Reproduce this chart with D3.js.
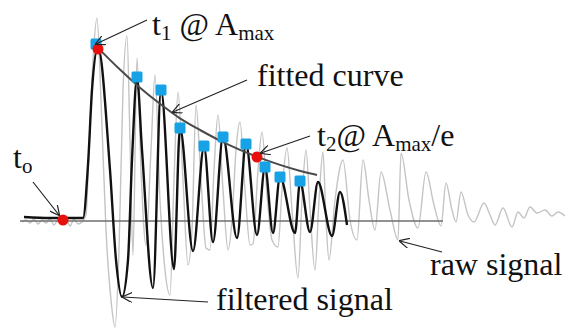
<!DOCTYPE html>
<html>
<head>
<meta charset="utf-8">
<script src="https://cdn.jsdelivr.net/npm/d3@7"></script>
<style>
  body { margin: 0; background: #fff; }
</style>
</head>
<body>
<script>
// Data (time in ms, amplitude in arbitrary units)
const filteredT = [0.4, 3.0, 6.3, 6.8, 7.2, 7.8, 9.0, 9.6, 10.2, 10.8, 11.2, 11.7, 12.2, 13.3, 14.1, 15.4, 16.0, 17.3, 18.4, 19.3, 20.3, 21.7, 22.6, 23.7, 24.5, 25.3, 26.0, 27.5, 28.0, 29.0, 29.8, 31.2, 32.0, 32.7];
const filteredA = [0.04, 0.03, 0.03, 0.56, 1.31, 1.74, 0.51, -0.39, -0.76, -0.39, 0.61, 1.43, 0.71, -0.67, 1.31, -0.48, 0.93, -0.30, 0.74, -0.21, 0.84, -0.17, 0.77, -0.14, 0.54, -0.12, 0.44, -0.12, 0.39, -0.11, 0.39, -0.15, 0.29, -0.04];

const rawT = [0.2, 0.6, 1.0, 1.4, 1.8, 2.2, 2.6, 3.0, 3.4, 3.8, 4.2, 4.6, 5.0, 5.4, 5.8, 6.2, 6.6, 6.9, 7.3, 7.7, 8.1, 8.6, 9.1, 9.5, 9.9, 10.3, 10.7, 11.0, 11.3, 11.7, 12.1, 12.6, 13.1, 13.5, 14.0, 14.5, 15.0, 15.4, 15.8, 16.3, 16.8, 17.2, 17.6, 18.1, 18.6, 19.0, 19.4, 19.8, 20.3, 20.8, 21.2, 21.6, 22.0, 22.5, 23.0, 23.3, 23.8, 24.2, 24.7, 25.2, 25.8, 26.2, 26.7, 27.2, 27.8, 28.2, 28.6, 29.0, 29.5, 29.9, 30.3, 30.6, 30.9, 31.5, 32.3, 33.0, 33.7, 34.3, 34.9, 35.5, 36.1, 37.0, 37.8, 38.1, 38.9, 39.8, 40.6, 41.4, 42.1, 42.6, 43.2, 43.6, 44.1, 44.8, 45.4, 46.4, 47.0, 47.5, 48.3, 49.2, 49.8, 50.4, 51.0, 51.7, 52.5, 53.2, 53.8, 54.5];
const rawA = [-0.01, 0.01, -0.02, 0.02, -0.03, 0.01, -0.02, 0.02, -0.04, 0.01, -0.03, 0.02, -0.05, 0.02, -0.03, -0.01, 0.06, 0.71, 1.61, 2.03, 1.21, -0.09, -0.79, -1.06, -0.29, 1.31, 1.85, 0.81, -0.34, 1.63, 0.51, -0.24, 0.71, 1.46, 0.21, -0.49, -0.74, 0.41, 1.29, 0.41, -0.44, -0.09, 1.16, 0.41, -0.27, -0.29, 0.51, 1.06, 0.31, -0.29, 0.01, 0.71, 0.99, 0.31, -0.24, -0.23, 0.51, 0.89, 0.26, -0.19, -0.26, 0.31, 0.73, 0.11, -0.57, 0.21, 0.71, 0.11, -0.49, 0.21, 0.69, 0.01, -0.39, 0.21, 0.61, 0.01, -0.19, 0.61, 0.21, -0.09, 0.49, 0.11, -0.19, 0.68, 0.21, -0.07, 0.49, 0.16, -0.05, 0.38, 0.11, -0.01, 0.29, 0.06, -0.01, 0.18, 0.06, -0.04, 0.13, -0.06, 0.09, 0.03, 0.14, 0.08, 0.11, 0.05, 0.09, 0.05];

// fitted exponential envelope
const fitT = [7.8, 10, 12, 14, 16, 18, 20, 22, 24, 26, 28, 29.7];
const fitA = [1.73, 1.51, 1.33, 1.17, 1.02, 0.91, 0.80, 0.71, 0.63, 0.56, 0.50, 0.46];

// detected peaks
const peakT = [7.6, 11.7, 14.1, 16.0, 18.4, 20.3, 22.6, 24.5, 26.0, 28.0];
const peakA = [1.77, 1.44, 1.31, 0.93, 0.75, 0.84, 0.77, 0.54, 0.44, 0.40];

// t0, t1 @ Amax, t2 @ Amax/e
const markT = [4.3, 7.8, 23.7];
const markA = [0.01, 1.72, 0.64];

const baselineExtent = [0, 42.3];

// Annotations: label pieces, arrow target in data units
const annotations = [
    {parts: [["t"], ["1", true], [" @ A"], ["max", true]], x: 152, y: 35, tail: [147, 20], target: [7.6, 1.77]},
    {parts: [["fitted curve"]], x: 257, y: 86, tail: [247, 80], target: [15.3, 1.09]},
    {parts: [["t"], ["2", true], ["@ A"], ["max", true], ["/e"]], x: 317, y: 146, tail: [310, 136], target: [24.1, 0.68]},
    {parts: [["t"], ["o", true]], x: 13, y: 168, tail: [33, 182], target: [3.9, 0.06]},
    {parts: [["filtered signal"]], x: 216, y: 310, tail: [208, 302], target: [10.3, -0.76]},
    {parts: [["raw signal"]], x: 430, y: 275, tail: [442, 252], target: [38.0, -0.20]}
];

// Main
const svgwidth = 574;
const svgheight = 330;

let svg = d3.select("body").append("svg")
    .attr("width", svgwidth)
    .attr("height", svgheight)

let xScale = d3.scaleLinear().domain([0, 55]).range([20, 570])
let yScale = d3.scaleLinear().domain([-1.1, 2.2]).range([331, 1])

svg.append("defs").append("marker")
    .attr("id", "arrow")
    .attr("viewBox", "0 0 10 10")
    .attr("refX", 9).attr("refY", 5)
    .attr("markerWidth", 10).attr("markerHeight", 10)
    .attr("markerUnits", "userSpaceOnUse")
    .attr("orient", "auto")
  .append("path")
    .attr("d", "M0,0 L10,5 L0,10")
    .attr("fill", "none")
    .attr("stroke", "#222")
    .attr("stroke-width", 1.2)

let line = d3.line()
    .x(d => xScale(d[0]))
    .y(d => yScale(d[1]))

// raw signal
svg.append("path")
    .datum(d3.zip(rawT, rawA))
    .attr("d", line.curve(d3.curveMonotoneX))
    .attr("fill", "none")
    .attr("stroke", "#c4c4c4")
    .attr("stroke-width", 1.4)

// zero line
svg.append("line")
    .attr("x1", xScale(baselineExtent[0]))
    .attr("x2", xScale(baselineExtent[1]))
    .attr("y1", yScale(0))
    .attr("y2", yScale(0))
    .attr("stroke", "#6e6e6e")
    .attr("stroke-width", 1.6)

// filtered signal
svg.append("path")
    .datum(d3.zip(filteredT, filteredA))
    .attr("d", line.curve(d3.curveMonotoneX))
    .attr("fill", "none")
    .attr("stroke", "#111")
    .attr("stroke-width", 2.4)

// fitted curve
svg.append("path")
    .datum(d3.zip(fitT, fitA))
    .attr("d", line.curve(d3.curveBasis))
    .attr("fill", "none")
    .attr("stroke", "#4a4a4a")
    .attr("stroke-width", 2)

// peaks
svg.selectAll(".peak")
    .data(d3.zip(peakT, peakA)).enter()
        .append("rect")
    .attr("class", "peak")
    .attr("x", d => xScale(d[0]) - 5.5)
    .attr("y", d => yScale(d[1]) - 5.5)
    .attr("width", 11)
    .attr("height", 11)
    .attr("rx", 1.5)
    .attr("fill", "#17a2e6")

// marks
svg.selectAll(".mark")
    .data(d3.zip(markT, markA)).enter()
        .append("circle")
    .attr("class", "mark")
    .attr("cx", d => xScale(d[0]))
    .attr("cy", d => yScale(d[1]))
    .attr("r", 5.5)
    .attr("fill", "#e8100c")

// arrows
svg.selectAll(".arrow")
    .data(annotations).enter()
        .append("line")
    .attr("class", "arrow")
    .attr("x1", d => d.tail[0])
    .attr("y1", d => d.tail[1])
    .attr("x2", d => xScale(d.target[0]))
    .attr("y2", d => yScale(d.target[1]))
    .attr("stroke", "#222")
    .attr("stroke-width", 1.2)
    .attr("marker-end", "url(#arrow)")

// labels
annotations.forEach(a => {
    let t = svg.append("text")
        .attr("x", a.x)
        .attr("y", a.y)
        .style("font-family", "'Liberation Serif', 'Times New Roman', serif")
        .style("font-size", "32px")
        .attr("fill", "#111")
    let sub = false;
    a.parts.forEach(p => {
        let isSub = !!p[1];
        t.append("tspan")
            .attr("dy", isSub === sub ? 0 : (isSub ? 5 : -5))
            .style("font-size", isSub ? "21px" : "32px")
            .text(p[0])
        sub = isSub;
    })
})
</script>
</body>
</html>
